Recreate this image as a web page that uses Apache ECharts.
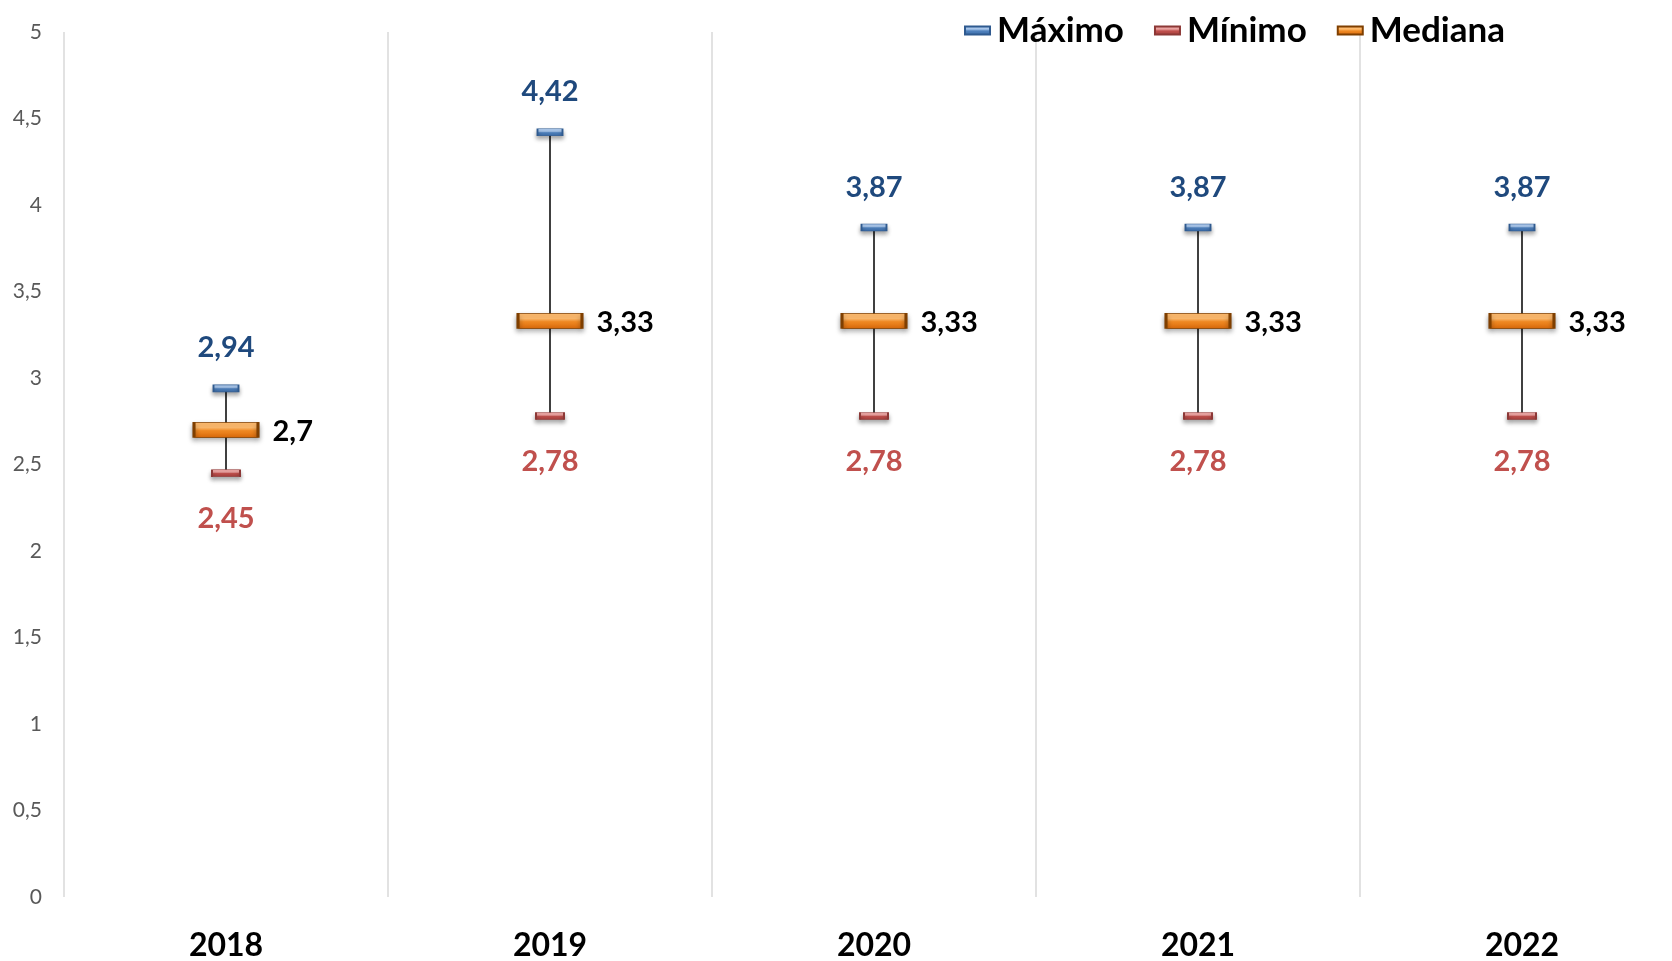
<!DOCTYPE html>
<html>
<head>
<meta charset="utf-8">
<script src="https://cdn.jsdelivr.net/npm/echarts@6/dist/echarts.min.js"></script>
<style>
  html, body { margin: 0; padding: 0; background: #fff; }
  #chart { width: 1672px; height: 961px; }
</style>
</head>
<body>
<div id="chart"></div>
<script>
// datos
const years = ['2018', '2019', '2020', '2021', '2022'];
const maxVals = [2.94, 4.42, 3.87, 3.87, 3.87];
const minVals = [2.45, 2.78, 2.78, 2.78, 2.78];
const medVals = [2.7, 3.33, 3.33, 3.33, 3.33];

const FONT = 'Lato, "Open Sans", sans-serif';
const comma = v => String(v).replace('.', ',');

// relleno con efecto bisel
function bevel(light, main, dark) {
  return new echarts.graphic.LinearGradient(0, 0, 0, 1, [
    { offset: 0, color: light },
    { offset: 0.35, color: light },
    { offset: 0.55, color: main },
    { offset: 1, color: dark }
  ]);
}

const chart = echarts.init(document.getElementById('chart'));

const option = {
  backgroundColor: '#fff',
  animation: false,
  textStyle: { fontFamily: FONT },
  // el área de trazado sobrepasa el borde derecho, como en el original
  grid: { left: 64, width: 1620, top: 32, bottom: 64, outerBoundsMode: 'none' },
  legend: {
    right: 162,
    top: 8,
    itemWidth: 25,
    itemHeight: 8,
    itemGap: 30,
    icon: 'rect',
    textStyle: { fontSize: 35, fontWeight: 'bold', color: '#000', fontFamily: FONT, padding: [0, 0, 0, 2] },
    data: ['Máximo', 'Mínimo', 'Mediana']
  },
  xAxis: {
    type: 'category',
    data: years,
    axisLine: { show: false },
    axisTick: { show: false },
    axisLabel: { fontSize: 32, fontWeight: 'bold', color: '#000', margin: 33, fontFamily: FONT },
    splitLine: { show: true, lineStyle: { color: '#d9d9d9', width: 1.5 } }
  },
  yAxis: {
    type: 'value',
    min: 0,
    max: 5,
    interval: 0.5,
    axisLine: { show: false },
    axisTick: { show: false },
    splitLine: { show: false },
    axisLabel: { fontSize: 21, color: '#595959', margin: 22, fontFamily: FONT, formatter: comma }
  },
  series: [
    {
      type: 'custom',
      name: 'rango',
      z: 1,
      silent: true,
      data: years.map((y, i) => [i, minVals[i], maxVals[i]]),
      renderItem: (params, api) => {
        const lo = api.coord([api.value(0), api.value(1)]);
        const hi = api.coord([api.value(0), api.value(2)]);
        return {
          type: 'line',
          shape: { x1: lo[0], y1: lo[1], x2: hi[0], y2: hi[1] },
          style: { stroke: '#404040', lineWidth: 2 }
        };
      }
    },
    {
      type: 'scatter',
      name: 'Máximo',
      z: 3,
      symbol: 'rect',
      symbolSize: [25, 7],
      data: maxVals,
      itemStyle: {
        color: bevel('#a9c6ea', '#4f81bd', '#3a6aa6'),
        borderColor: '#2f5a8f',
        borderWidth: 1,
        opacity: 1,
        shadowBlur: 4,
        shadowOffsetY: 3,
        shadowColor: 'rgba(0,0,0,0.35)'
      },
      label: {
        show: true,
        position: 'top',
        distance: 22,
        fontSize: 29,
        fontWeight: 'bold',
        color: '#1f497d',
        fontFamily: FONT,
        formatter: p => comma(p.value)
      }
    },
    {
      type: 'scatter',
      name: 'Mínimo',
      z: 3,
      symbol: 'rect',
      symbolSize: [28, 7],
      data: minVals,
      itemStyle: {
        color: bevel('#eaa3a1', '#c0504d', '#a33e3b'),
        borderColor: '#8c3836',
        borderWidth: 1,
        opacity: 1,
        shadowBlur: 4,
        shadowOffsetY: 3,
        shadowColor: 'rgba(0,0,0,0.35)'
      },
      label: {
        show: true,
        position: 'bottom',
        distance: 27,
        fontSize: 29,
        fontWeight: 'bold',
        color: '#c0504d',
        fontFamily: FONT,
        formatter: p => comma(p.value)
      }
    },
    {
      type: 'scatter',
      name: 'Mediana',
      z: 4,
      symbol: 'rect',
      symbolSize: [64, 15],
      data: medVals,
      itemStyle: {
        color: bevel('#ffbb6e', '#f08a24', '#d8680a'),
        borderColor: '#7f3f00',
        borderWidth: 1.5,
        opacity: 1,
        shadowBlur: 5,
        shadowOffsetY: 3,
        shadowColor: 'rgba(0,0,0,0.35)'
      },
      label: {
        show: true,
        position: 'right',
        distance: 13,
        offset: [0, 2],
        fontSize: 29,
        fontWeight: 'bold',
        color: '#000',
        fontFamily: FONT,
        formatter: p => comma(p.value)
      }
    }
  ]
};

chart.setOption(option);
</script>
</body>
</html>
